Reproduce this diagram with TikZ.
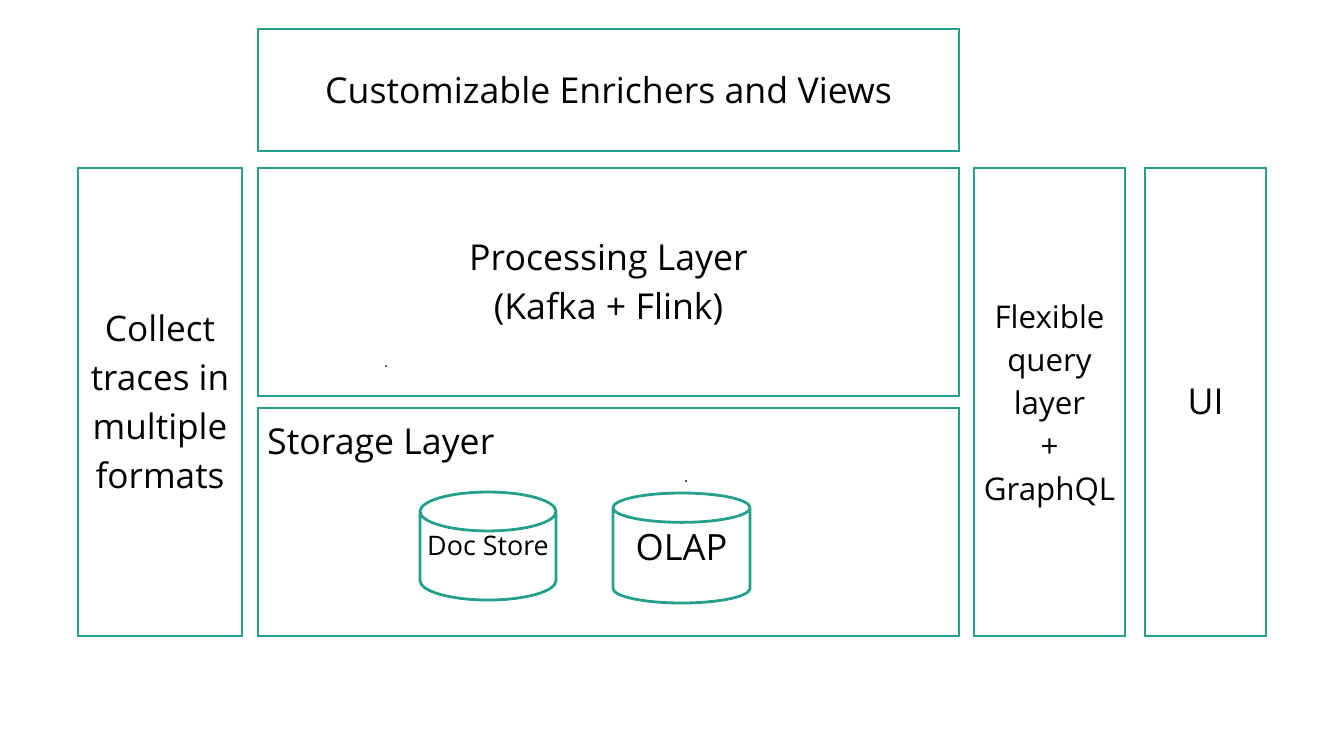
\documentclass[tikz,border=0pt]{standalone}
\usepackage{fontspec}
\setmainfont{Open Sans}
\usepackage{tikz}
\usetikzlibrary{shapes.geometric,positioning}
\definecolor{teal}{RGB}{38,160,140}

\begin{document}
\begin{tikzpicture}[box/.style={draw=teal,line width=1.6pt,inner sep=0pt},
db/.style={draw=teal,line width=1.6pt,cylinder,shape border rotate=90,aspect=0.32,inner sep=0pt,anchor=shape center}]
\useasboundingbox (0,0) rectangle (26.88,-14.86);
\node[box,minimum width=14.02cm,minimum height=2.44cm,font=\fontsize{20.3}{28}\selectfont] (Enr) at (12.17,-1.80) {Customizable Enrichers and Views};
\node[box,minimum width=3.28cm,minimum height=9.36cm,align=center,font=\fontsize{20}{28}\selectfont] (Col) at (3.20,-8.04) {Collect\\traces in\\multiple\\formats};
\node[box,minimum width=14.02cm,minimum height=4.56cm] (Proc) at (12.17,-5.64) {};
\node[align=center,font=\fontsize{20.3}{28}\selectfont] (ProcT) at (12.17,-5.70) {Processing Layer\\(Kafka + Flink)};
\node[box,minimum width=14.02cm,minimum height=4.56cm] (Stor) at (12.17,-10.44) {};
\node[anchor=west,font=\fontsize{20.3}{28}\selectfont] (StorT) at (5.22,-8.92) {Storage Layer};
\node[box,minimum width=3.02cm,minimum height=9.36cm,align=center,font=\fontsize{17.8}{24.5}\selectfont] (Qry) at (20.99,-8.04) {};
\node[align=center,font=\fontsize{17.8}{24.5}\selectfont] (QryT) at (20.99,-8.12) {Flexible\\query\\layer\\+\\GraphQL};
\node[box,minimum width=2.42cm,minimum height=9.36cm,font=\fontsize{20.3}{28}\selectfont] (UI) at (24.11,-8.04) {UI};
\node[db,minimum width=2.72cm,minimum height=2.16cm,font=\fontsize{15.3}{18}\selectfont] (Doc) at (9.76,-10.92) {\phantom{Doc Store}};
\node[font=\fontsize{15.3}{18}\selectfont] (DocT) at (Doc.shape center) {Doc Store};
\node[db,minimum width=2.74cm,minimum height=2.20cm,font=\fontsize{20.6}{24}\selectfont] (Olap) at (13.63,-10.96) {\phantom{OLAP}};
\node[font=\fontsize{20.6}{24}\selectfont] (OlapT) at (Olap.shape center) {OLAP};
\fill (7.72,-7.32) circle (0.02);
\fill (13.72,-9.62) circle (0.02);
\end{tikzpicture}
\end{document}
